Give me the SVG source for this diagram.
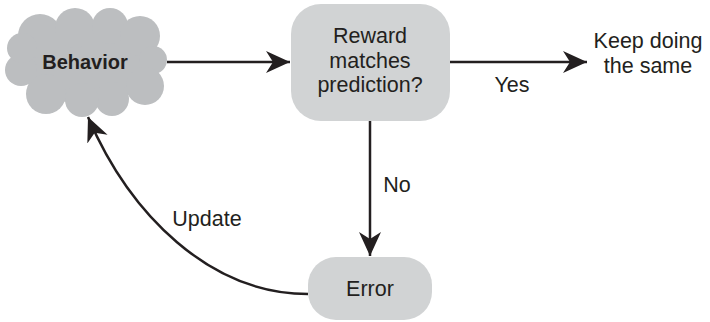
<svg xmlns="http://www.w3.org/2000/svg" width="710" height="322" viewBox="0 0 710 322">
<style>
text{font-family:"Liberation Sans",Arial,sans-serif;fill:#231f20;font-size:21.5px;text-anchor:middle}
.b{font-weight:bold;font-size:20px}
.box{fill:#d1d3d4}
.cloud{fill:#bcbec0}
.c{fill:none;stroke:#231f20;stroke-width:2.5}
</style>
<defs>
<marker id="ah" markerUnits="userSpaceOnUse" markerWidth="26" markerHeight="24" viewBox="0 0 26 24" refX="24" refY="12" orient="auto">
<path d="M0,1 L24,12 L0,23 L7,12 Z" fill="#231f20"/>
</marker>
</defs>
<rect width="710" height="322" fill="#fff"/>
<g id="behavior">
<g class="cloud">
<ellipse cx="86" cy="62" rx="68" ry="42"/>
<circle cx="40" cy="36" r="22"/>
<circle cx="75" cy="28" r="20"/>
<circle cx="110" cy="26" r="18"/>
<circle cx="140" cy="36" r="20"/>
<circle cx="153" cy="60" r="14"/>
<circle cx="145" cy="86" r="19"/>
<circle cx="112" cy="99" r="17"/>
<circle cx="82" cy="100" r="17"/>
<circle cx="46" cy="94" r="20"/>
<circle cx="21" cy="70" r="16"/>
<circle cx="22" cy="48" r="15"/>
</g>
<text class="b" x="85" y="69">Behavior</text>
</g>
<g id="reward">
<rect class="box" x="291" y="4" width="159" height="117" rx="30"/>
<text x="370" y="43">Reward</text>
<text x="370" y="68">matches</text>
<text x="370" y="92">prediction?</text>
</g>
<g id="keep">
<text x="648" y="48">Keep doing</text>
<text x="648" y="73">the same</text>
</g>
<g id="error">
<rect class="box" x="308" y="257" width="124" height="63" rx="28"/>
<text x="370" y="296">Error</text>
</g>
<g id="connectors">
<line class="c" x1="167" y1="62" x2="290" y2="62" marker-end="url(#ah)"/>
<line class="c" x1="450" y1="62" x2="587" y2="62" marker-end="url(#ah)"/>
<line class="c" x1="370" y1="121" x2="370" y2="256" marker-end="url(#ah)"/>
<path class="c" d="M308,294 C210,294 130,215 88,117" marker-end="url(#ah)"/>
<text x="512" y="92">Yes</text>
<text x="397" y="192">No</text>
<text x="207" y="226">Update</text>
</g>
</svg>
